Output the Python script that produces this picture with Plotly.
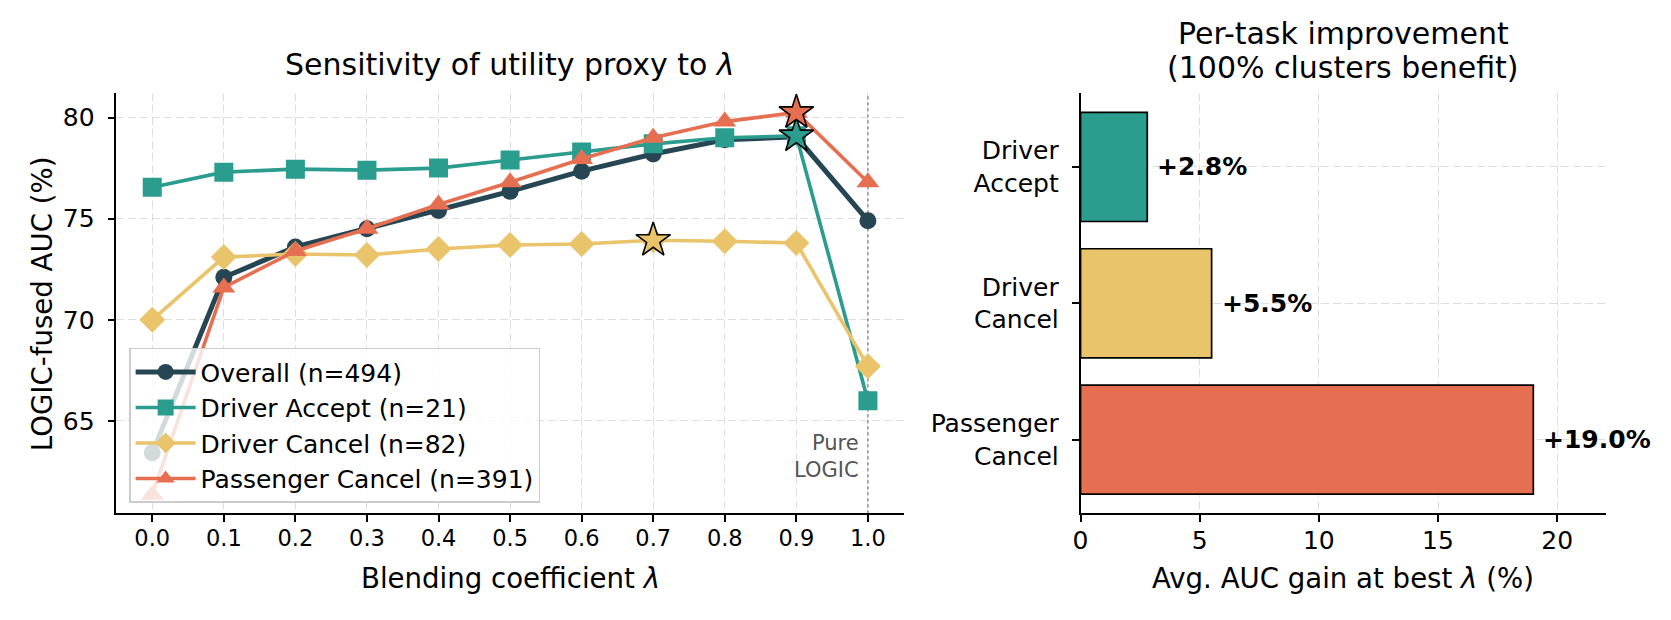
import plotly.graph_objects as go

# ---------------- data ----------------
lambdas = [0.0, 0.1, 0.2, 0.3, 0.4, 0.5, 0.6, 0.7, 0.8, 0.9, 1.0]
series_names = ["Overall (n=494)", "Driver Accept (n=21)", "Driver Cancel (n=82)", "Passenger Cancel (n=391)"]
overall = [63.42, 72.1, 73.6, 74.5, 75.4, 76.35, 77.35, 78.2, 78.9, 79.05, 74.9]
driver_accept = [76.55, 77.3, 77.45, 77.4, 77.5, 77.9, 78.3, 78.7, 79.0, 79.1, 66.0]
driver_cancel = [70.0, 73.1, 73.25, 73.2, 73.5, 73.7, 73.75, 73.93, 73.88, 73.8, 67.7]
passenger_cancel = [61.35, 71.6, 73.4, 74.5, 75.7, 76.8, 77.95, 79.0, 79.8, 80.25, 76.8]

tasks = ["Driver Accept", "Driver Cancel", "Passenger Cancel"]
gains = [2.8, 5.5, 19.0]

PURE_LOGIC_LAMBDA = 1.0

# ---------------- style ----------------
FONT = "DejaVu Sans"
C_OVERALL = "#264653"
C_ACCEPT = "#2a9d8f"
C_DCANCEL = "#e9c46a"
C_PCANCEL = "#e76f51"
GRID = "rgba(160,160,160,0.35)"
W, H = 1671, 620

fig = go.Figure()

line_specs = [
    (overall, series_names[0], C_OVERALL, "circle", 17, 5.0),
    (driver_accept, series_names[1], C_ACCEPT, "square", 19, 3.6),
    (driver_cancel, series_names[2], C_DCANCEL, "diamond", 20, 3.6),
    (passenger_cancel, series_names[3], C_PCANCEL, "triangle-up", 20, 3.6),
]
for vals, name, col, sym, sz, lw in line_specs:
    fig.add_trace(go.Scatter(
        x=lambdas, y=vals, name=name, mode="lines+markers",
        line=dict(color=col, width=lw),
        marker=dict(symbol=sym, size=sz, color=col, line=dict(width=0)),
        xaxis="x", yaxis="y",
    ))

# stars at the best lambda of each task
for vals, col in [(driver_accept, C_ACCEPT), (driver_cancel, C_DCANCEL), (passenger_cancel, C_PCANCEL)]:
    i = max(range(len(vals)), key=lambda k: vals[k])
    fig.add_trace(go.Scatter(
        x=[lambdas[i]], y=[vals[i]], mode="markers", showlegend=False,
        marker=dict(symbol="star", size=26, color=col, line=dict(color="black", width=1.6)),
        xaxis="x", yaxis="y",
    ))

# bars
ypos = list(range(len(tasks)))
bar_colors = [C_ACCEPT, C_DCANCEL, C_PCANCEL]
fig.add_trace(go.Bar(
    x=gains, y=ypos, orientation="h", width=0.8,
    marker=dict(color=bar_colors, line=dict(color="black", width=1.7)),
    showlegend=False, xaxis="x2", yaxis="y2",
))

annotations = []
for g, p in zip(gains, ypos):
    annotations.append(dict(
        x=g, y=p, xref="x2", yref="y2", text=f"+{g:.1f}%", showarrow=False,
        xanchor="left", yanchor="middle", xshift=8,
        font=dict(family=FONT, size=25, color="black", weight="bold"),
    ))

annotations.append(dict(
    x=PURE_LOGIC_LAMBDA, y=63.25, xref="x", yref="y", text="Pure<br>LOGIC",
    showarrow=False, xanchor="right", yanchor="middle", xshift=-7, align="right",
    font=dict(family=FONT, size=21, color="#555555"),
))

# titles
annotations.append(dict(
    x=0.5, y=1 - 64 / H, xref="x domain", yref="paper",
    text="Sensitivity of utility proxy to <i>λ</i>", showarrow=False,
    xanchor="center", yanchor="middle", font=dict(family=FONT, size=30, color="black"),
))
for txt, yc in [("Per-task improvement", 33.5), ("(100% clusters benefit)", 67.5)]:
    annotations.append(dict(
        x=0.5, y=1 - yc / H, xref="x2 domain", yref="paper", text=txt, showarrow=False,
        xanchor="center", yanchor="middle", font=dict(family=FONT, size=30, color="black"),
    ))

# axis titles
LABEL_FONT = dict(family=FONT, size=27.6, color="black")
annotations.append(dict(x=0.5, y=1 - 578 / H, xref="x domain", yref="paper",
                        text="Blending coefficient <i>λ</i>", showarrow=False,
                        xanchor="center", yanchor="middle", font=LABEL_FONT))
annotations.append(dict(x=0.5, y=1 - 578 / H, xref="x2 domain", yref="paper",
                        text="Avg. AUC gain at best <i>λ</i> (%)", showarrow=False,
                        xanchor="center", yanchor="middle", font=LABEL_FONT))
annotations.append(dict(x=34 / W, y=0.5, xref="paper", yref="y domain",
                        text="LOGIC-fused AUC (%)", showarrow=False, textangle=-90,
                        xanchor="center", yanchor="middle", font=LABEL_FONT))

fig.add_shape(type="line", x0=PURE_LOGIC_LAMBDA, x1=PURE_LOGIC_LAMBDA, y0=0, y1=1,
              xref="x", yref="y domain", layer="below",
              line=dict(color="#999999", width=1.7, dash="dot"))

axis_common = dict(
    showline=True, linecolor="black", linewidth=1.6, mirror=False,
    ticks="outside", ticklen=7, tickwidth=1.6, tickcolor="black",
    showgrid=True, gridcolor=GRID, gridwidth=1.2, griddash="8px,4px",
    zeroline=False,
)

ydom = [(H - 513.3) / H, (H - 93.3) / H]

fig.update_layout(
    width=W, height=H,
    margin=dict(l=0, r=0, t=0, b=0),
    paper_bgcolor="white", plot_bgcolor="white",
    font=dict(family=FONT, color="black"),
    xaxis=dict(domain=[109 / W, 900 / W], range=[-0.05, 1.05],
               tickvals=lambdas, tickformat=".1f", anchor="y",
               tickfont=dict(family=FONT, size=22.5, color="black"), ticklabelstandoff=-3,
               **axis_common),
    yaxis=dict(domain=ydom, range=[60.43, 81.2], tickvals=[65, 70, 75, 80], anchor="x",
               tickfont=dict(family=FONT, size=25, color="black"), ticklabelstandoff=8,
               **axis_common),
    xaxis2=dict(domain=[1077.7 / W, 1605.7 / W], range=[0, 22.05],
                tickvals=[0, 5, 10, 15, 20], anchor="y2", layer="above traces",
                tickfont=dict(family=FONT, size=25, color="black"), ticklabelstandoff=-3,
                **axis_common),
    yaxis2=dict(domain=ydom, range=[2.54, -0.54], tickvals=ypos,
                ticktext=[t.replace(" ", "<br>") for t in tasks], anchor="x2",
                tickfont=dict(family=FONT, size=25, color="black"), ticklabelstandoff=8,
                layer="above traces", **axis_common),
    legend=dict(x=121.7 / W, y=1 - 347.7 / H, xanchor="left", yanchor="top",
                bgcolor="rgba(255,255,255,0.8)", bordercolor="#cccccc", borderwidth=1.5,
                font=dict(family=FONT, size=25, color="black"), itemwidth=60),
    annotations=annotations,
    showlegend=True,
)

fig.write_html("out.html")
